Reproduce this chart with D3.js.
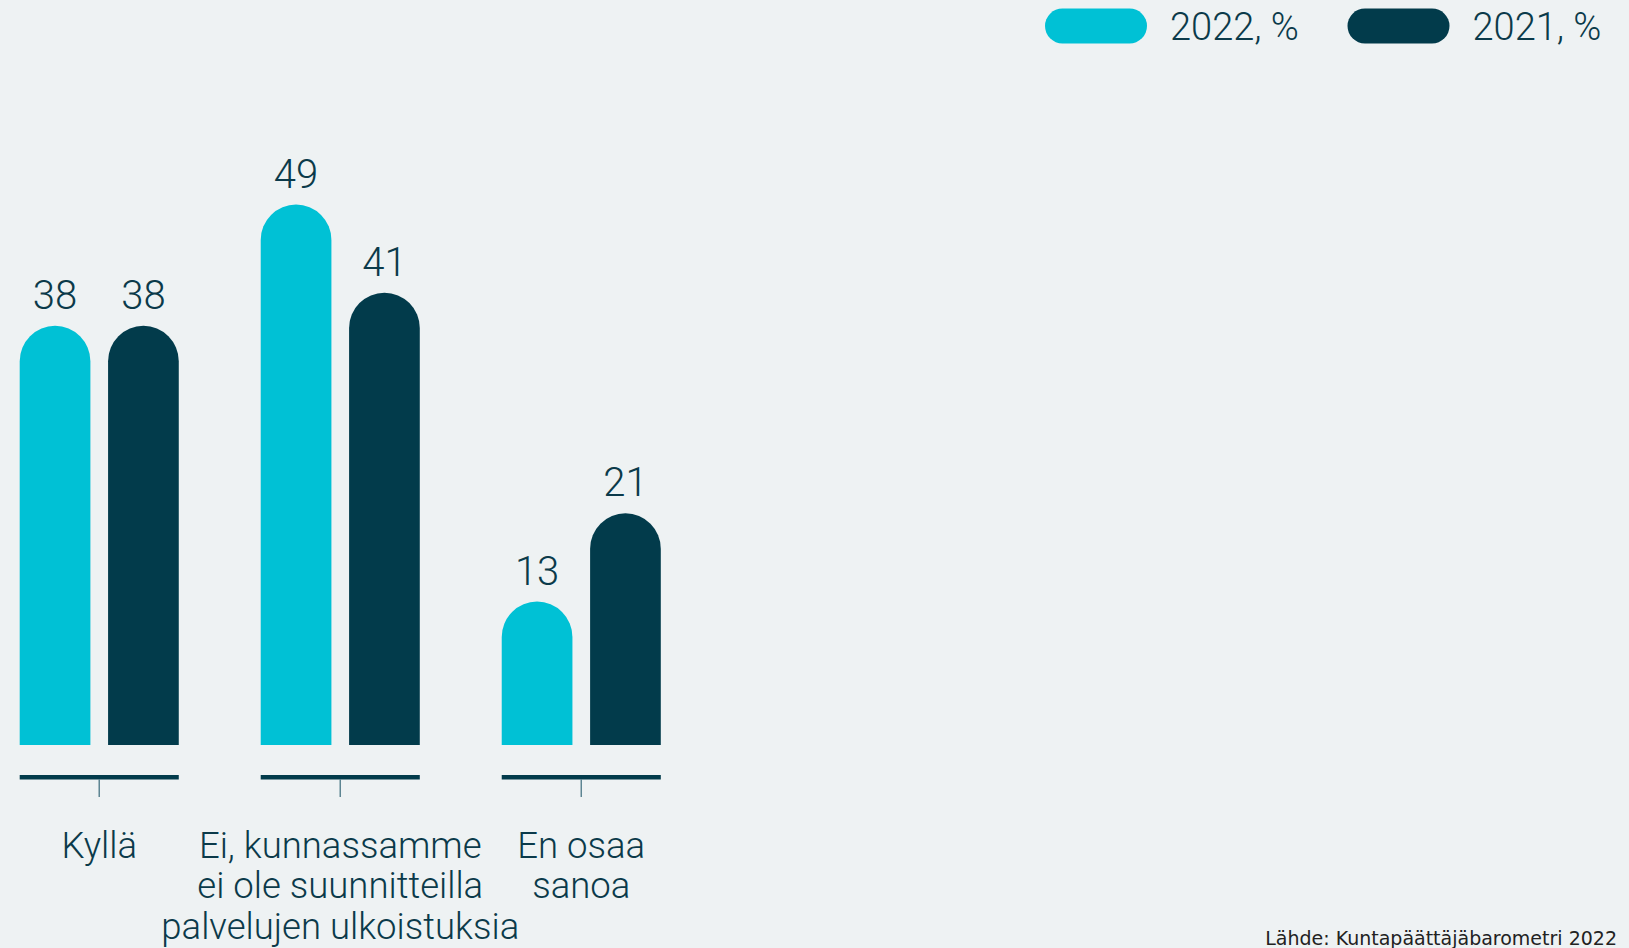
<!DOCTYPE html>
<html>
<head>
<meta charset="utf-8">
<script src="https://cdn.jsdelivr.net/npm/d3@7"></script>
<style>
  html, body { margin: 0; padding: 0; background: #eef2f3; }
  svg { display: block; }
</style>
</head>
<body>
<div id="chart"></div>
<script>
// Chart data
const categories = [
  ["Kyllä"],
  ["Ei, kunnassamme", "ei ole suunnitteilla", "palvelujen ulkoistuksia"],
  ["En osaa", "sanoa"]
];
const seriesNames = ["2022, %", "2021, %"];
const values2022 = [38, 49, 13];
const values2021 = [38, 41, 21];
const sourceText = "Lähde: Kuntapäättäjäbarometri 2022";

const width = 1629;
const height = 948;
const COLORS = ["#00c1d5", "#023b4b"];
const TEXT = "#0b3a4a";
const FONT = "Roboto, 'Noto Sans', sans-serif";

let svg = d3.select("#chart")
  .append("svg")
  .attr("width", width)
  .attr("height", height);

svg.append("rect")
  .attr("width", width)
  .attr("height", height)
  .attr("fill", "#eef2f3");

// Scales
let groupKeys = categories.map((c, i) => i);
let x0 = d3.scaleBand()
  .domain(groupKeys)
  .range([19.7, 660.8])
  .paddingInner(0.34)
  .paddingOuter(0);

let x1 = d3.scaleBand()
  .domain(d3.range(seriesNames.length))
  .range([0, x0.bandwidth()])
  .paddingInner(0.2)
  .paddingOuter(0);

let y = d3.scaleLinear()
  .domain([0, 60])
  .range([745, 745 - 60 * 11.03]);

let rows = groupKeys.map(i => [values2022[i], values2021[i]]);

// Bars with rounded top
function barPath(x, w, yTop, yBottom) {
  let r = w / 2;
  let top = Math.min(yTop + r, yBottom);
  return `M${x},${yBottom} L${x},${top} A${r},${r} 0 0 1 ${x + w},${top} L${x + w},${yBottom} Z`;
}

let groups = svg.append("g")
  .selectAll("g")
  .data(rows)
  .enter()
    .append("g")
    .attr("transform", (d, i) => `translate(${x0(i)},0)`);

groups.selectAll("path")
  .data(d => d)
  .enter()
    .append("path")
    .attr("d", (v, j) => barPath(x1(j), x1.bandwidth(), y(v), y(0)))
    .attr("fill", (v, j) => COLORS[j]);

groups.selectAll("text.value")
  .data(d => d)
  .enter()
    .append("text")
    .attr("class", "value")
    .attr("x", (v, j) => x1(j) + x1.bandwidth() / 2)
    .attr("y", v => y(v) - 17)
    .attr("text-anchor", "middle")
    .attr("font-family", FONT)
    .attr("font-weight", 300)
    .attr("font-size", 40)
    .attr("fill", TEXT)
    .text(v => v);

// Thick baseline segment under each group
groups.append("rect")
  .attr("x", 0)
  .attr("y", 775)
  .attr("width", x0.bandwidth())
  .attr("height", 4.5)
  .attr("fill", COLORS[1]);

// Axis ticks and category labels
let axis = svg.append("g")
  .attr("transform", "translate(0,779)")
  .call(d3.axisBottom(x0).tickSize(18).tickSizeOuter(0).tickFormat(""));
axis.select(".domain").remove();
axis.selectAll(".tick line")
  .attr("stroke", "#5d8592")
  .attr("stroke-width", 1.5);

let labels = axis.selectAll(".tick text")
  .attr("y", 0)
  .attr("dy", null)
  .attr("font-family", FONT)
  .attr("font-weight", 300)
  .attr("font-size", 36.5)
  .attr("fill", TEXT);

labels.each(function(d) {
  let t = d3.select(this);
  categories[d].forEach((line, k) => {
    t.append("tspan")
      .attr("x", 0)
      .attr("y", 78.5 + k * 40.5)
      .text(line);
  });
});

// Legend
let legendX = [1045, 1347.5];
let legend = svg.append("g")
  .selectAll("g")
  .data(seriesNames)
  .enter()
    .append("g")
    .attr("transform", (d, i) => `translate(${legendX[i]},8.5)`);

legend.append("rect")
  .attr("width", 102)
  .attr("height", 35)
  .attr("rx", 17.5)
  .attr("fill", (d, i) => COLORS[i]);

legend.append("text")
  .attr("x", 125)
  .attr("y", 31)
  .attr("font-family", FONT)
  .attr("font-weight", 300)
  .attr("font-size", 38)
  .attr("fill", TEXT)
  .text(d => d);

// Source
svg.append("text")
  .attr("x", 1617)
  .attr("y", 945)
  .attr("text-anchor", "end")
  .attr("font-family", "'DejaVu Sans', sans-serif")
  .attr("font-size", 19)
  .attr("fill", "#222")
  .text(sourceText);
</script>
</body>
</html>
